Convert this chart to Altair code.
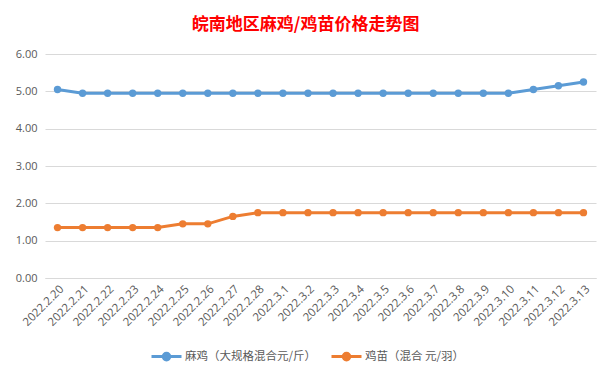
import altair as alt
import pandas as pd

dates = ["2022.2.20", "2022.2.21", "2022.2.22", "2022.2.23", "2022.2.24", "2022.2.25",
         "2022.2.26", "2022.2.27", "2022.2.28", "2022.3.1", "2022.3.2", "2022.3.3",
         "2022.3.4", "2022.3.5", "2022.3.6", "2022.3.7", "2022.3.8", "2022.3.9",
         "2022.3.10", "2022.3.11", "2022.3.12", "2022.3.13"]
maji = [5.05, 4.95, 4.95, 4.95, 4.95, 4.95, 4.95, 4.95, 4.95, 4.95, 4.95, 4.95,
        4.95, 4.95, 4.95, 4.95, 4.95, 4.95, 4.95, 5.05, 5.15, 5.25]
jimiao = [1.35, 1.35, 1.35, 1.35, 1.35, 1.45, 1.45, 1.65, 1.75, 1.75, 1.75, 1.75,
          1.75, 1.75, 1.75, 1.75, 1.75, 1.75, 1.75, 1.75, 1.75, 1.75]
series_names = ["麻鸡（大规格混合元/斤）", "鸡苗（混合 元/羽）"]
colors = ["#5B9BD5", "#ED7D31"]

rows = []
for i, d in enumerate(dates):
    rows.append({"date": d, "series": series_names[0], "value": maji[i]})
    rows.append({"date": d, "series": series_names[1], "value": jimiao[i]})
df = pd.DataFrame(rows)

x = alt.X("date:N", sort=dates, title=None,
          axis=alt.Axis(labelAngle=-45, labelFontSize=11.5, labelColor="#595959",
                        labelFont="Open Sans", ticks=False, domainColor="#D9D9D9",
                        labelPadding=5))
y = alt.Y("value:Q", title=None, scale=alt.Scale(domain=[0, 6]),
          axis=alt.Axis(values=[0, 1, 2, 3, 4, 5, 6], format=".2f", domain=False, ticks=False,
                        labelFontSize=11, labelColor="#595959", labelFont="Open Sans",
                        gridColor="#D9D9D9", labelPadding=8))
color = alt.Color("series:N", sort=series_names, title=None,
                  scale=alt.Scale(domain=series_names, range=colors),
                  legend=alt.Legend(orient="none", legendX=105, legendY=286, direction="horizontal",
                                    symbolType="M-1,0H1M-0.22,0A0.22,0.22 0 1,1 0.22,0A0.22,0.22 0 1,1 -0.22,0Z",
                                    symbolSize=900, symbolStrokeWidth=3,
                                    labelFont="Noto Sans CJK SC", labelFontSize=11.5,
                                    labelColor="#595959", columnPadding=8, labelOffset=2))

base = alt.Chart(df).encode(x=x, y=y, color=color)
lines = base.mark_line(strokeWidth=3)
points = base.mark_point(filled=True, size=55, opacity=1)

chart = alt.layer(lines, points).properties(
    width=551, height=224,
    title=alt.TitleParams("皖南地区麻鸡/鸡苗价格走势图", color="#FF0000", fontSize=17,
                          font="Noto Sans CJK SC", fontWeight="bold", anchor="middle",
                          frame="bounds", offset=14),
    padding={"left": 37, "top": 46, "right": 10, "bottom": 92},
    autosize=alt.AutoSizeParams(type="none"),
    background="white",
).configure_view(stroke=None)

chart.save("out.html", embed_options={"renderer": "svg", "actions": False})
